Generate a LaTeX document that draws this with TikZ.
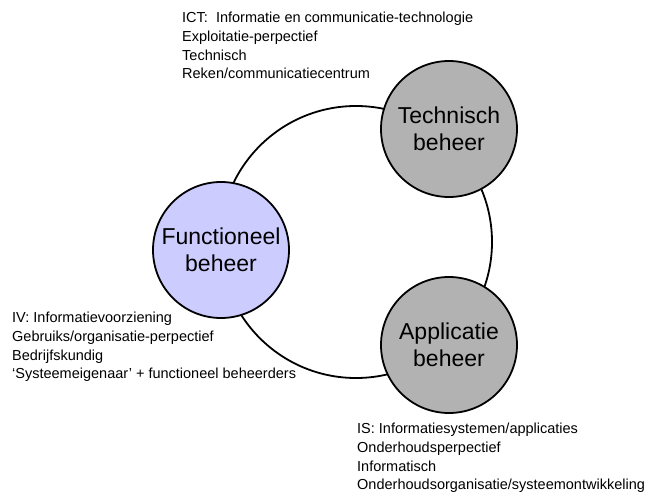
\documentclass[tikz,border=0pt]{standalone}
\usepackage{fontspec}
\setmainfont{Liberation Sans}
\usepackage{tikz}
\definecolor{beheergrijs}{RGB}{178,178,178}
\definecolor{beheerpaars}{RGB}{204,204,255}

\begin{document}
\begin{tikzpicture}[x=1pt, y=-1pt,
  beheer/.style={circle, draw, line width=1.8pt, minimum size=136pt, inner sep=0pt,
                 align=center, font=\fontsize{23}{27}\selectfont},
  uitleg/.style={anchor=north west, inner sep=0pt, align=left,
                 font=\fontsize{14.5}{18.7}\selectfont}]
\useasboundingbox (0,0) rectangle (668,495);

% Descriptions
\node[uitleg] (ictTekst) at (182,12) {ICT:~ Informatie en communicatie-technologie\\
  Exploitatie-perpectief\\
  Technisch\\
  Reken/communicatiecentrum};
\node[uitleg] (ivTekst) at (12,312) {IV: Informatievoorziening\\
  Gebruiks/organisatie-perpectief\\
  Bedrijfskundig\\
  ‘Systeemeigenaar’ + functioneel beheerders};
\node[uitleg] (isTekst) at (357,423) {IS: Informatiesystemen/applicaties\\
  Onderhoudsperpectief\\
  Informatisch\\
  Onderhoudsorganisatie/systeemontwikkeling};

% Ring through the three domains
\node[circle, draw, line width=1.8pt, minimum size=272pt, inner sep=0pt] (ring) at (356,242) {};

% Domains
\node[beheer, fill=beheergrijs] (technisch) at (449,129) {Technisch\\beheer};
\node[beheer, fill=beheerpaars] (functioneel) at (221,250) {Functioneel\\beheer};
\node[beheer, fill=beheergrijs] (applicatie) at (449,345) {Applicatie\\beheer};

\end{tikzpicture}
\end{document}
